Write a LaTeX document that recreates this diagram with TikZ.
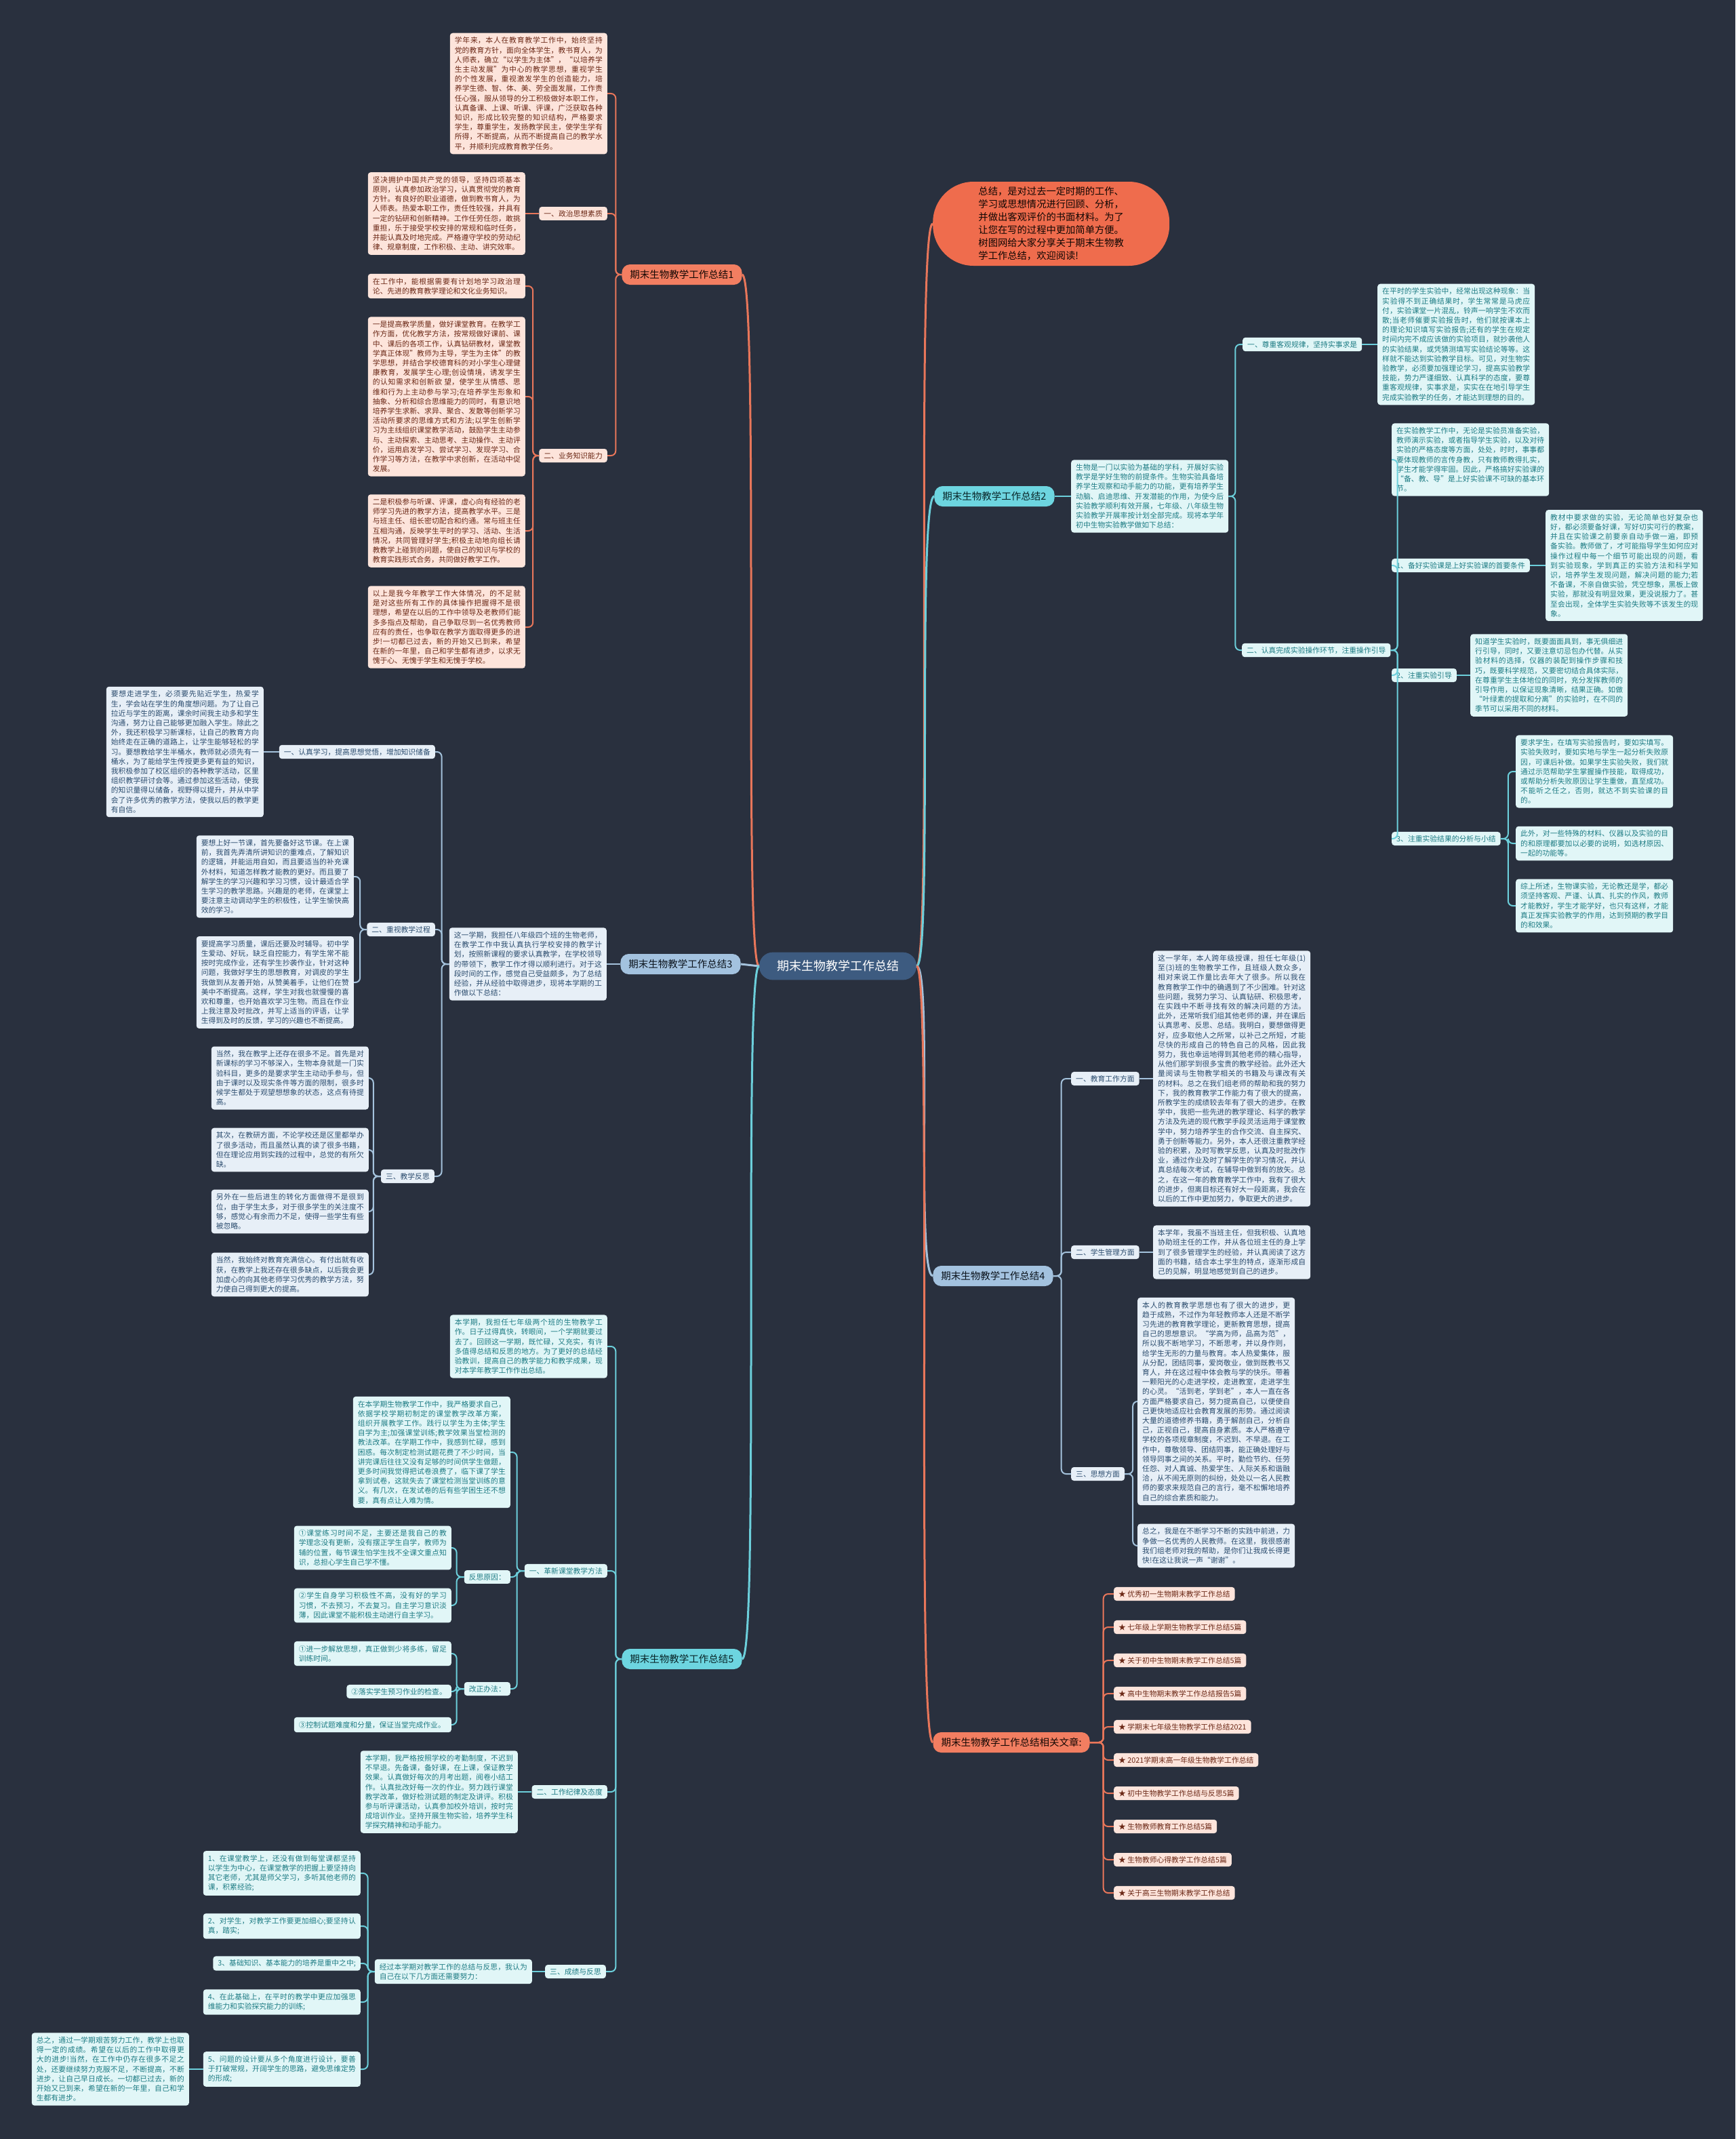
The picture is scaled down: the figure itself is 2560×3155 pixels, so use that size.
\documentclass[tikz,border=0pt]{standalone}
\usepackage{fontspec}
\setmainfont{Noto Sans CJK SC}
\XeTeXlinebreaklocale "zh"
\XeTeXlinebreakskip=0pt plus 1pt
\setlength{\parindent}{0pt}
\newcommand{\boxfont}{\fontsize{10.8pt}{14.2pt}\selectfont}
\newcommand{\brfont}{\fontsize{14.5pt}{17pt}\selectfont}
\definecolor{bg}{HTML}{29303E}
\definecolor{oline}{HTML}{E8765A}
\definecolor{onode}{HTML}{F27E61}
\definecolor{obub}{HTML}{EF6C4D}
\definecolor{ofill}{HTML}{FDE4DB}
\definecolor{otext}{HTML}{6B2816}
\definecolor{cline}{HTML}{6CCFDB}
\definecolor{cnode}{HTML}{6DD5E0}
\definecolor{cfill}{HTML}{E1F6F7}
\definecolor{ctext}{HTML}{1E7C84}
\definecolor{bline}{HTML}{A4C2DC}
\definecolor{bnode}{HTML}{A3C2DF}
\definecolor{bfill}{HTML}{E7EFF7}
\definecolor{btext}{HTML}{2B4C6E}
\definecolor{cen}{HTML}{3D5B80}
\tikzset{
  box/.style={rectangle, rounded corners=4pt, inner xsep=7pt, inner ysep=6pt, font=\boxfont, align=justify, text width=218pt},
  lab/.style={rectangle, rounded corners=4pt, inner xsep=7pt, inner ysep=5pt, font=\boxfont},
  obox/.style={box, fill=ofill, text=otext},
  cbox/.style={box, fill=cfill, text=ctext},
  bbox/.style={box, fill=bfill, text=btext},
  olab/.style={lab, fill=ofill, text=otext},
  clab/.style={lab, fill=cfill, text=ctext},
  blab/.style={lab, fill=bfill, text=btext},
  branch/.style={rectangle, rounded corners=12pt, inner xsep=12pt, inner ysep=7pt, font=\brfont, minimum height=30pt},
  obr/.style={branch, fill=onode, text=black!80!otext},
  cbr/.style={branch, fill=cnode, text=black!70!ctext},
  bbr/.style={branch, fill=bnode, text=black!75!btext},
  ol/.style={draw=oline, line width=2pt, rounded corners=7pt},
  cl/.style={draw=cline, line width=2pt, rounded corners=7pt},
  bl/.style={draw=bline, line width=2pt, rounded corners=7pt},
  oc/.style={draw=oline, line width=3pt},
  ccv/.style={draw=cline, line width=3pt},
  bcv/.style={draw=bline, line width=3pt},
}
\begin{document}
\begin{tikzpicture}[x=1pt, y=-1pt]
\fill[bg] (0,0) rectangle (2560,3155);
\useasboundingbox (0,0) rectangle (2560,3155);

% centre
\node[rectangle, rounded corners=20pt, fill=cen, text=white, font=\fontsize{18pt}{21pt}\selectfont, inner xsep=26pt, inner ysep=12pt] (c) at (1236,1425) {期末生物教学工作总结};

% ================= branch 1 =================
\node[obr] (b1) at (1006,405) {期末生物教学工作总结1};
\node[obox, anchor=east] (t1a) at (896,138) {学年来，本人在教育教学工作中，始终坚持党的教育方针，面向全体学生，教书育人，为人师表，确立“以学生为主体”，“以培养学生主动发展”为中心的教学思想，重视学生的个性发展，重视激发学生的创造能力，培养学生德、智、体、美、劳全面发展，工作责任心强，服从领导的分工积极做好本职工作，认真备课、上课、听课、评课，广泛获取各种知识，形成比较完整的知识结构，严格要求学生，尊重学生，发扬教学民主，使学生学有所得，不断提高，从而不断提高自己的教学水平，并顺利完成教育教学任务。};
\node[olab, anchor=east] (l1a) at (896,315) {一、政治思想素质};
\node[obox, anchor=east] (t1b) at (775,315) {坚决拥护中国共产党的领导，坚持四项基本原则，认真参加政治学习，认真贯彻党的教育方针。有良好的职业道德，做到教书育人，为人师表。热爱本职工作，责任性较强，并具有一定的钻研和创新精神。工作任劳任怨，敢挑重担，乐于接受学校安排的常规和临时任务，并能认真及时地完成。严格遵守学校的劳动纪律、规章制度，工作积极、主动、讲究效率。};
\node[olab, anchor=east] (l1b) at (896,672) {二、业务知识能力};
\node[obox, anchor=east] (t1c) at (775,422) {在工作中，能根据需要有计划地学习政治理论、先进的教育教学理论和文化业务知识。};
\node[obox, anchor=east] (t1d) at (775,585) {一是提高教学质量，做好课堂教育。在教学工作方面，优化教学方法，按常规做好课前、课中、课后的各项工作，认真钻研教材，课堂教学真正体现”教师为主导，学生为主体”的教学思想，并结合学校德育科的对小学生心理健康教育，发展学生心理;创设情境，诱发学生的认知需求和创新欲 望，使学生从情感、思维和行为上主动参与学习;在培养学生形象和抽象、分析和综合思维能力的同时，有意识地培养学生求新、求异、聚合、发散等创新学习活动所要求的思维方式和方法;以学生创新学习为主线组织课堂教学活动，鼓励学生主动参与、主动探索、主动思考、主动操作、主动评价，运用启发学习、尝试学习、发现学习、合作学习等方法，在教学中求创新，在活动中促发展。};
\node[obox, anchor=east] (t1e) at (775,783) {二是积极参与听课、评课，虚心向有经验的老师学习先进的教学方法，提高教学水平。三是与班主任、组长密切配合和约通。常与班主任互相沟通，反映学生平时的学习、活动、生活情况，共同管理好学生;积极主动地向组长请教教学上碰到的问题，使自己的知识与学校的教育实践形式合务，共同做好教学工作。};
\node[obox, anchor=east] (t1f) at (775,925) {以上是我今年教学工作大体情况，的不足就是对这些所有工作的具体操作把握得不是很理想，希望在以后的工作中领导及老教师们能多多指点及帮助，自己争取尽到一名优秀教师应有的责任，也争取在教学方面取得更多的进步!一切都已过去，新的开始又已到来，希望在新的一年里，自己和学生都有进步，以求无愧于心、无愧于学生和无愧于学校。};
\draw[ol] (b1.west) -- ++(-9,0) |- (t1a.east);
\draw[ol] (b1.west) -- ++(-9,0) |- (l1a.east);
\draw[ol] (b1.west) -- ++(-9,0) |- (l1b.east);
\draw[ol] (l1a.west) -- (t1b.east);
\foreach \t in {t1c,t1d,t1e,t1f} \draw[ol] (l1b.west) -- ++(-9,0) |- (\t.east);

% ================= intro bubble =================
\node[rectangle, rounded corners=60pt, fill=obub, text=black!85!otext, font=\fontsize{14.3pt}{19pt}\selectfont, align=left, minimum width=349pt, minimum height=124pt, anchor=west] (intro) at (1376,330) {总结，是对过去一定时期的工作、\\学习或思想情况进行回顾、分析，\\并做出客观评价的书面材料。为了\\让您在写的过程中更加简单方便。\\树图网给大家分享关于期末生物教\\学工作总结，欢迎阅读!};

% ================= branch 2 =================
\node[cbr] (b2) at (1467,732) {期末生物教学工作总结2};
\node[cbox, anchor=west] (i2) at (1580,732) {生物是一门以实验为基础的学科，开展好实验教学是学好生物的前提条件。生物实验具备培养学生观察和动手能力的功能，更有培养学生动脑、启迪思维、开发潜能的作用，为使今后实验教学顺利有效开展，七年级、八年级生物实验教学开展率按计划全部完成。现将本学年初中生物实验教学做如下总结：};
\node[clab, anchor=west] (l2a) at (1833,508) {一、尊重客观规律，坚持实事求是};
\node[cbox, anchor=west] (t2a) at (2032,508) {在平时的学生实验中，经常出现这种现象：当实验得不到正确结果时，学生常常是马虎应付，实验课堂一片混乱，铃声一响学生不欢而散;当老师催要实验报告时，他们就按课本上的理论知识填写实验报告;还有的学生在规定时间内完不成应该做的实验项目，就抄袭他人的实验结果，或凭猜测填写实验结论等等。这样就不能达到实验教学目标。可见，对生物实验教学，必须要加强理论学习，提高实验教学技能，势力严谨细致、认真科学的态度，要尊重客观规律，实事求是，实实在在地引导学生完成实验教学的任务，才能达到理想的目的。};
\node[clab, anchor=west] (l2b) at (1832,959) {二、认真完成实验操作环节，注重操作引导};
\node[cbox, anchor=west] (t2b) at (2053,678) {在实验教学工作中，无论是实验员准备实验，教师演示实验，或者指导学生实验，以及对待实验的严格态度等方面，处处，时时，事事都要体现教师的言传身教，只有教师教得扎实，学生才能学得牢固。因此，严格搞好实验课的“备、教、导”是上好实验课不可缺的基本环节。};
\node[clab, anchor=west] (l2b1) at (2053,834) {1、备好实验课是上好实验课的首要条件};
\node[cbox, anchor=west] (t2b1) at (2280,834) {教材中要求做的实验，无论简单也好复杂也好，都必须要备好课，写好切实可行的教案，并且在实验课之前要亲自动手做一遍，即预备实验。教师做了，才可能指导学生如何应对操作过程中每一个细节可能出现的问题，看到实验现象，学到真正的实验方法和科学知识，培养学生发现问题，解决问题的能力;若不备课，不亲自做实验，凭空想象，黑板上做实验，那就没有明显效果，更没说服力了。甚至会出现，全体学生实验失败等不该发生的现象。};
\node[clab, anchor=west] (l2b2) at (2053,996) {2、注重实验引导};
\node[cbox, anchor=west] (t2b2) at (2169,996) {知道学生实验时，既要面面具到，事无俱细进行引导，同时，又要注意切忌包办代替。从实验材料的选择，仪器的装配到操作步骤和技巧，既要科学规范，又要密切结合具体实际，在尊重学生主体地位的同时，充分发挥教师的引导作用，以保证现象清晰，结果正确。如做“叶绿素的提取和分离”的实验时，在不同的季节可以采用不同的材料。};
\node[clab, anchor=west] (l2b3) at (2053,1237) {3、注重实验结果的分析与小结};
\node[cbox, anchor=west] (t2b3a) at (2236,1138) {要求学生，在填写实验报告时，要如实填写。实验失败时，要如实地与学生一起分析失败原因，可课后补做。如果学生实验失败，我们就通过示范帮助学生掌握操作技能，取得成功，或帮助分析失败原因让学生重做，直至成功。不能听之任之，否则，就达不到实验课的目的。};
\node[cbox, anchor=west] (t2b3b) at (2236,1244) {此外，对一些特殊的材料、仪器以及实验的目的和原理都要加以必要的说明，如选材原因、一起的功能等。};
\node[cbox, anchor=west] (t2b3c) at (2236,1336) {综上所述，生物课实验，无论教还是学，都必须坚持客观、严谨、认真、扎实的作风，教师才能教好，学生才能学好，也只有这样，才能真正发挥实验教学的作用，达到预期的教学目的和效果。};
\draw[cl] (b2.east) -- (i2.west);
\draw[cl] (i2.east) -- ++(10,0) |- (l2a.west);
\draw[cl] (i2.east) -- ++(10,0) |- (l2b.west);
\draw[cl] (l2a.east) -- (t2a.west);
\foreach \t in {t2b,l2b1,l2b2,l2b3} \draw[cl] (l2b.east) -- ++(10,0) |- (\t.west);
\draw[cl] (l2b1.east) -- (t2b1.west);
\draw[cl] (l2b2.east) -- (t2b2.west);
\foreach \t in {t2b3a,t2b3b,t2b3c} \draw[cl] (l2b3.east) -- ++(11,0) |- (\t.west);

% ================= branch 3 =================
\node[bbr] (b3) at (1004,1422) {期末生物教学工作总结3};
\node[bbox, anchor=east] (i3) at (895,1422) {这一学期，我担任八年级四个班的生物老师，在教学工作中我认真执行学校安排的教学计划，按照新课程的要求认真教学，在学校领导的带领下，教学工作才得以顺利进行。对于这段时间的工作，感觉自己受益颇多，为了总结经验，并从经验中取得进步，现将本学期的工作做以下总结：};
\node[blab, anchor=east] (l3a) at (642,1109) {一、认真学习，提高思想觉悟，增加知识储备};
\node[bbox, anchor=east] (t3a) at (389,1109) {要想走进学生，必须要先贴近学生，热爱学生，学会站在学生的角度想问题。为了让自己拉近与学生的距离，课余时间我主动多和学生沟通，努力让自己能够更加融入学生。除此之外，我还积极学习新课标，让自己的教育方向始终走在正确的道路上，让学生能够轻松的学习。要想教给学生半桶水，教师就必须先有一桶水，为了能给学生传授更多更有益的知识，我积极参加了校区组织的各种教学活动，区里组织教学研讨会等。通过参加这些活动，使我的知识量得以储备，视野得以提升，并从中学会了许多优秀的教学方法，使我以后的教学更有自信。};
\node[blab, anchor=east] (l3b) at (642,1371) {二、重视教学过程};
\node[bbox, anchor=east] (t3b1) at (522,1293) {要想上好一节课，首先要备好这节课。在上课前，我首先弄清所讲知识的重难点，了解知识的逻辑，并能运用自如，而且要适当的补充课外材料，知道怎样教才能教的更好。而且要了解学生的学习兴趣和学习习惯，设计最适合学生学习的教学思路。兴趣是的老师，在课堂上要注意主动调动学生的积极性，让学生愉快高效的学习。};
\node[bbox, anchor=east] (t3b2) at (522,1449) {要提高学习质量，课后还要及时辅导。初中学生爱动、好玩，缺乏自控能力，有学生常不能按时完成作业，还有学生抄袭作业，针对这种问题，我做好学生的思想教育，对调皮的学生我做到从友善开始，从赞美着手，让他们在赞美中不断提高。这样，学生对我也就慢慢的喜欢和尊重，也开始喜欢学习生物。而且在作业上我注意及时批改，并写上适当的评语，让学生得到及时的反馈，学习的兴趣也不断提高。};
\node[blab, anchor=east] (l3c) at (641,1735) {三、教学反思};
\node[bbox, anchor=east] (t3c1) at (544,1590) {当然，我在教学上还存在很多不足。首先是对新课标的学习不够深入，生物本身就是一门实验科目，更多的是要求学生主动动手参与，但由于课时以及现实条件等方面的限制，很多时候学生都处于观望想想象的状态，这点有待提高。};
\node[bbox, anchor=east] (t3c2) at (544,1696) {其次，在教研方面，不论学校还是区里都举办了很多活动，而且虽然认真的读了很多书籍，但在理论应用到实践的过程中，总觉的有所欠缺。};
\node[bbox, anchor=east] (t3c3) at (544,1787) {另外在一些后进生的转化方面做得不是很到位，由于学生太多，对于很多学生的关注度不够，感觉心有余而力不足，使得一些学生有些被忽略。};
\node[bbox, anchor=east] (t3c4) at (544,1880) {当然，我始终对教育充满信心。有付出就有收获，在教学上我还存在很多缺点，以后我会更加虚心的向其他老师学习优秀的教学方法，努力使自己得到更大的提高。};
\draw[bl] (b3.west) -- (i3.east);
\foreach \t in {l3a,l3b,l3c} \draw[bl] (i3.west) -- ++(-11,0) |- (\t.east);
\draw[bl] (l3a.west) -- (t3a.east);
\foreach \t in {t3b1,t3b2} \draw[bl] (l3b.west) -- ++(-10,0) |- (\t.east);
\foreach \t in {t3c1,t3c2,t3c3,t3c4} \draw[bl] (l3c.west) -- ++(-11,0) |- (\t.east);

% ================= branch 4 =================
\node[bbr] (b4) at (1465,1882) {期末生物教学工作总结4};
\node[blab, anchor=west] (l4a) at (1580,1591) {一、教育工作方面};
\node[bbox, anchor=west] (t4a) at (1701,1591) {这一学年，本人跨年级授课，担任七年级(1)至(3)班的生物教学工作，且班级人数众多，相对来说工作量比去年大了很多。所以我在教育教学工作中的确遇到了不少困难。针对这些问题，我努力学习、认真钻研、积极思考，在实践中不断寻找有效的解决问题的方法。此外，还常听我们组其他老师的课，并在课后认真思考、反思、总结。我明白，要想做得更好，应多取他人之所常，以补己之所短，才能尽快的形成自己的特色自己的风格，因此我努力，我也幸运地得到其他老师的精心指导，从他们那学到很多宝贵的教学经验。此外还大量阅读与生物教学相关的书籍及与课改有关的材料。总之在我们组老师的帮助和我的努力下，我的教育教学工作能力有了很大的提高，所教学生的成绩较去年有了很大的进步。在教学中，我把一些先进的教学理论、科学的教学方法及先进的现代教学手段灵活运用于课堂教学中，努力培养学生的合作交流、自主探究、勇于创新等能力。另外，本人还很注重教学经验的积累，及时写教学反思，认真及时批改作业，通过作业及时了解学生的学习情况，并认真总结每次考试，在辅导中做到有的放矢。总之，在这一年的教育教学工作中，我有了很大的进步，但离目标还有好大一段距离，我会在以后的工作中更加努力，争取更大的进步。};
\node[blab, anchor=west] (l4b) at (1580,1847) {二、学生管理方面};
\node[bbox, anchor=west] (t4b) at (1701,1847) {本学年，我虽不当班主任，但我积极、认真地协助班主任的工作，并从各位班主任的身上学到了很多管理学生的经验，并认真阅读了这方面的书籍，结合本土学生的特点，逐渐形成自己的见解，明显地感觉到自己的进步。};
\node[blab, anchor=west] (l4c) at (1580,2174) {三、思想方面};
\node[bbox, anchor=west] (t4c1) at (1678,2067) {本人的教育教学思想也有了很大的进步，更趋于成熟，不过作为年轻教师本人还是不断学习先进的教育教学理论，更新教育思想，提高自己的思想意识。“学高为师，品高为范”，所以我不断地学习，不断思考，并以身作则，给学生无形的力量与教育。本人热爱集体，服从分配，团结同事，爱岗敬业，做到既教书又育人，并在这过程中体会教与学的快乐。带着一颗阳光的心走进学校，走进教室，走进学生的心灵。“活到老，学到老”，本人一直在各方面严格要求自己，努力提高自己，以便使自己更快地适应社会教育发展的形势。通过阅读大量的道德修养书籍，勇于解剖自己，分析自己，正视自己，提高自身素质。本人严格遵守学校的各项规章制度，不迟到、不早退。在工作中，尊敬领导、团结同事，能正确处理好与领导同事之间的关系。平时，勤俭节约、任劳任怨、对人真诚、热爱学生、人际关系和谐融洽，从不闹无原则的纠纷，处处以一名人民教师的要求来规范自己的言行，毫不松懈地培养自己的综合素质和能力。};
\node[bbox, anchor=west] (t4c2) at (1678,2280) {总之，我是在不断学习不断的实践中前进，力争做一名优秀的人民教师。在这里，我很感谢我们组老师对我的帮助，是你们让我成长得更快!在这让我说一声“谢谢”。};
\foreach \t in {l4a,l4b,l4c} \draw[bl] (b4.east) -- ++(12,0) |- (\t.west);
\draw[bl] (l4a.east) -- (t4a.west);
\draw[bl] (l4b.east) -- (t4b.west);
\foreach \t in {t4c1,t4c2} \draw[bl] (l4c.east) -- ++(12,0) |- (\t.west);

% ================= related =================
\node[obr] (rel) at (1492,2570) {期末生物教学工作总结相关文章:};
\foreach \n/\y/\s in {
 1/2351/优秀初一生物期末教学工作总结,
 2/2400/七年级上学期生物教学工作总结5篇,
 3/2449/关于初中生物期末教学工作总结5篇,
 4/2498/高中生物期末教学工作总结报告5篇,
 5/2547/学期末七年级生物教学工作总结2021,
 6/2596/2021学期末高一年级生物教学工作总结,
 7/2645/初中生物教学工作总结与反思5篇,
 8/2694/生物教师教育工作总结5篇,
 9/2743/生物教师心得教学工作总结5篇,
 10/2792/关于高三生物期末教学工作总结}{
  \node[olab, anchor=west] (a\n) at (1643,\y) {★ \s};
  \draw[ol] (rel.east) -- ++(20,0) |- (a\n.west);
}

% ================= branch 5 =================
\node[cbr] (b5) at (1006,2447) {期末生物教学工作总结5};
\node[cbox, anchor=east] (i5) at (896,1986) {本学期，我担任七年级两个班的生物教学工作。日子过得真快，转眼间，一个学期就要过去了。回顾这一学期，既忙碌，又充实，有许多值得总结和反思的地方。为了更好的总结经验教训，提高自己的教学能力和教学成果，现对本学年教学工作作出总结。};
\node[clab, anchor=east] (l5a) at (896,2317) {一、革新课堂教学方法};
\node[cbox, anchor=east] (t5a) at (753,2142) {在本学期生物教学工作中，我严格要求自己，依据学校学期初制定的课堂教学改革方案，组织开展教学工作。践行以学生为主体;学生自学为主;加强课堂训练;教学效果当堂检测的教法改革。在学期工作中，我感到忙碌，感到困惑。每次制定检测试题花费了不少时间，当讲完课后往往又没有足够的时间供学生做题，更多时间我觉得把试卷浪费了，临下课了学生拿到试卷，这就失去了课堂检测当堂训练的意义。有几次，在发试卷的后有些学困生还不想要，真有点让人难为情。};
\node[clab, anchor=east] (l5a1) at (753,2326) {反思原因：};
\node[cbox, anchor=east] (t5a1a) at (666,2283) {①课堂练习时间不足，主要还是我自己的教学理念没有更新，没有摆正学生自学，教师为辅的位置，每节课生怕学生找不全课文重点知识，总担心学生自己学不懂。};
\node[cbox, anchor=east] (t5a1b) at (666,2368) {②学生自身学习积极性不高，没有好的学习习惯，不去预习，不去复习。自主学习意识淡薄，因此课堂不能积极主动进行自主学习。};
\node[clab, anchor=east] (l5a2) at (753,2491) {改正办法：};
\node[cbox, anchor=east] (t5a2a) at (666,2439) {①进一步解放思想，真正做到少将多练，留足训练时间。};
\node[clab, anchor=east] (t5a2b) at (666,2495) {②落实学生预习作业的检查。};
\node[cbox, anchor=east, align=left] (t5a2c) at (666,2544) {③控制试题难度和分量，保证当堂完成作业。};
\node[clab, anchor=east] (l5b) at (896,2643) {二、工作纪律及态度};
\node[cbox, anchor=east] (t5b) at (764,2643) {本学期，我严格按照学校的考勤制度，不迟到不早退。先备课，备好课，在上课，保证教学效果。认真做好每次的月考出题，阅卷小结工作。认真批改好每一次的作业。努力践行课堂教学改革，做好检测试题的制定及讲评。积极参与听评课活动，认真参加校外培训，按时完成培训作业。坚持开展生物实验，培养学生科学探究精神和动手能力。};
\node[clab, anchor=east] (l5c) at (894,2908) {三、成绩与反思};
\node[cbox, anchor=east] (t5c) at (785,2908) {经过本学期对教学工作的总结与反思，我认为自己在以下几方面还需要努力：};
\node[cbox, anchor=east] (t5c1) at (532,2763) {1、在课堂教学上，还没有做到每堂课都坚持以学生为中心，在课堂教学的把握上要坚持向其它老师，尤其是师父学习，多听其他老师的课，积累经验;};
\node[cbox, anchor=east] (t5c2) at (532,2841) {2、对学生，对教学工作要更加细心;要坚持认真，踏实;};
\node[clab, anchor=east] (t5c3) at (532,2896) {3、基础知识、基本能力的培养是重中之中;};
\node[cbox, anchor=east] (t5c4) at (532,2953) {4、在此基础上，在平时的教学中更应加强思维能力和实验探究能力的训练;};
\node[cbox, anchor=east] (t5c5) at (532,3052) {5、问题的设计要从多个角度进行设计，要善于打破常规，开阔学生的思路，避免思维定势的形成;};
\node[cbox, anchor=east] (t5f) at (279,3052) {总之，通过一学期艰苦努力工作，教学上也取得一定的成绩。希望在以后的工作中取得更大的进步!当然，在工作中仍存在很多不足之处，还要继续努力克服不足，不断提高，不断进步，让自己早日成长。一切都已过去，新的开始又已到来，希望在新的一年里，自己和学生都有进步。};
\foreach \t in {i5,l5a,l5b,l5c} \draw[cl] (b5.west) -- ++(-9,0) |- (\t.east);
\foreach \t in {t5a,l5a1,l5a2} \draw[cl] (l5a.west) -- ++(-11,0) |- (\t.east);
\foreach \t in {t5a1a,t5a1b} \draw[cl] (l5a1.west) -- ++(-11,0) |- (\t.east);
\foreach \t in {t5a2a,t5a2b,t5a2c} \draw[cl] (l5a2.west) -- ++(-11,0) |- (\t.east);
\draw[cl] (l5b.west) -- (t5b.east);
\draw[cl] (l5c.west) -- (t5c.east);
\foreach \t in {t5c1,t5c2,t5c3,t5c4,t5c5} \draw[cl] (t5c.west) -- ++(-10,0) |- (\t.east);
\draw[cl] (t5c5.west) -- (t5f.east);

% ================= centre connectors =================
\draw[oc] (c.west) .. controls +(-24,0) and +(26,0) .. (b1.east);
\draw[bcv] (c.west) -- (b3.east);
\draw[ccv] (c.west) .. controls +(-24,0) and +(26,0) .. (b5.east);
\draw[oc] (c.east) .. controls +(24,0) and +(-26,0) .. (intro.west);
\draw[ccv] (c.east) .. controls +(24,0) and +(-26,0) .. (b2.west);
\draw[bcv] (c.east) .. controls +(24,0) and +(-26,0) .. (b4.west);
\draw[oc] (c.east) .. controls +(24,0) and +(-26,0) .. (rel.west);
\end{tikzpicture}
\end{document}
